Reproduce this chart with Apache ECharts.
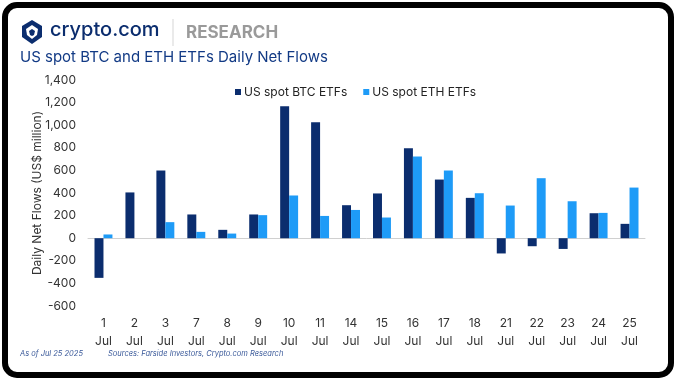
<!DOCTYPE html>
<html><head><meta charset="utf-8">
<script src="https://cdn.jsdelivr.net/npm/echarts@6/dist/echarts.min.js"></script>
<style>html,body{margin:0;padding:0;background:#fff;}#c{width:680px;height:385px;}</style>
</head><body><div id="c"></div>
<script>
const categories = ['1\nJul','2\nJul','3\nJul','7\nJul','8\nJul','9\nJul','10\nJul','11\nJul','14\nJul','15\nJul','16\nJul','17\nJul','18\nJul','21\nJul','22\nJul','23\nJul','24\nJul','25\nJul'];
const btcFlows = [-351, 405, 599, 210, 74, 210, 1168, 1027, 292, 396, 796, 519, 357, -135, -71, -95, 221, 127];
const ethFlows = [33, 0, 142, 56, 41, 204, 378, 197, 250, 183, 723, 599, 398, 289, 531, 327, 224, 448];
const seriesNames = ['US spot BTC ETFs', 'US spot ETH ETFs'];

const chart = echarts.init(document.getElementById('c'));
const FONT = 'Inter, "Noto Sans", sans-serif';
chart.setOption({
  animation: false,
  textStyle: {fontFamily: FONT},
  grid: {left: 88, right: 35, top: 80, bottom: 79},
  legend: {
    data: seriesNames, top: 81, left: 230,
    itemWidth: 6, itemHeight: 6, itemGap: 16, icon: 'rect',
    textStyle: {fontSize: 12, color: '#222', fontFamily: FONT, padding: [0,0,0,-2]}
  },
  xAxis: {
    type: 'category', data: categories,
    axisLine: {onZero: true, lineStyle: {color: '#d0d0d0', width: 1}},
    axisTick: {show: false},
    axisLabel: {interval: 0, fontSize: 12, color: '#333', lineHeight: 18, margin: 8},
    position: 'bottom'
  },
  yAxis: {
    type: 'value', min: -600, max: 1400, interval: 200,
    splitLine: {show: false}, axisLine: {show: false}, axisTick: {show: false},
    axisLabel: {fontSize: 12, color: '#333', margin: 12,
      formatter: v => v.toLocaleString('en-US')},
    name: 'Daily Net Flows (US$ million)', nameLocation: 'middle', nameGap: 45,
    nameMoveOverlap: false,
    nameTextStyle: {fontSize: 12, color: '#333'}
  },
  series: [
    {name: seriesNames[0], type: 'bar', data: btcFlows, itemStyle: {color: '#0B2D6E'}, barGap: '0%', barCategoryGap: '42%'},
    {name: seriesNames[1], type: 'bar', data: ethFlows, itemStyle: {color: '#1E9BF7'}}
  ],
  graphic: [
    {type: 'rect', shape: {x: 5, y: 5, width: 666, height: 370, r: 12}, style: {fill: 'none', stroke: '#000', lineWidth: 6}, silent: true, z: 100},
    {type: 'polygon', shape: {points: [[32,20],[42,26],[42,37],[32,44],[22,37],[22,26]]}, style: {fill: '#0B2D6E'}},
    {type: 'polygon', shape: {points: [[32,25],[38,29],[37,35],[32,39],[27,35],[26,29]]}, style: {fill: '#fff'}},
    {type: 'polygon', shape: {points: [[32,29],[35,31],[34,35],[32,36],[30,35],[29,31]]}, style: {fill: '#0B2D6E'}},
    {type: 'text', left: 50, top: 20, style: {text: 'crypto.com', fontSize: 20, fontWeight: 500, fill: '#0B2D6E', fontFamily: FONT}},
    {type: 'line', shape: {x1: 173, y1: 19, x2: 173, y2: 46}, style: {stroke: '#d5d5d5', lineWidth: 1}},
    {type: 'text', left: 186, top: 24, style: {text: 'RESEARCH', fontSize: 17, fontWeight: 'bold', fill: '#9a9a9a', fontFamily: FONT}},
    {type: 'text', left: 20, top: 50, style: {text: 'US spot BTC and ETH ETFs Daily Net Flows', fontSize: 15, fill: '#123a85', fontFamily: FONT}},
    {type: 'text', left: 20, top: 350, style: {text: 'As of Jul 25 2025', fontSize: 7.5, fontStyle: 'italic', fill: '#3b5a9a', fontFamily: FONT}},
    {type: 'text', left: 108, top: 350, style: {text: 'Sources: Farside Investors, Crypto.com Research', fontSize: 7.5, fontStyle: 'italic', fill: '#3b5a9a', fontFamily: FONT}}
  ]
});
</script></body></html>
